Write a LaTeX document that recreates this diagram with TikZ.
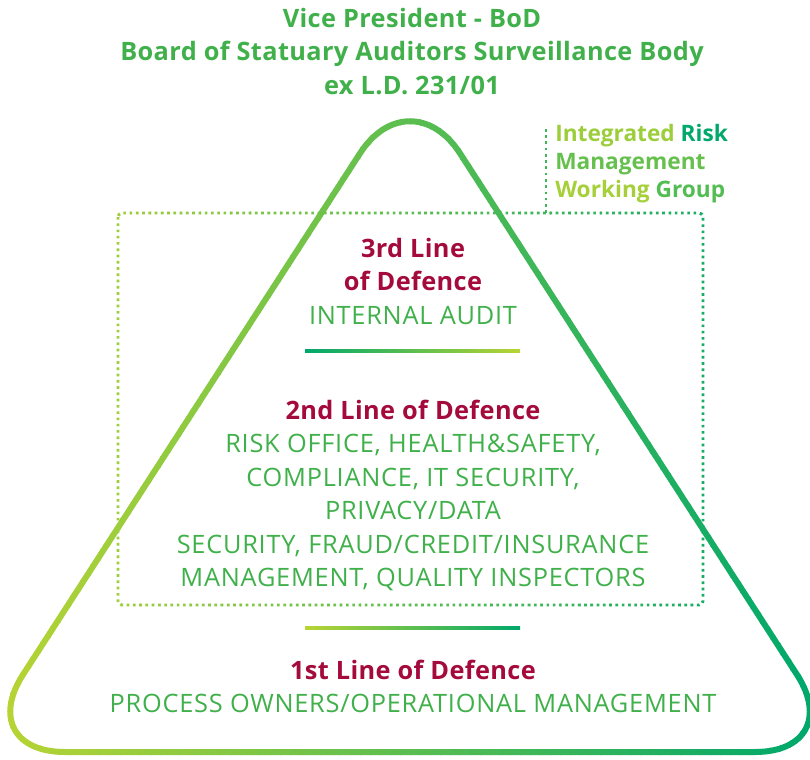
\documentclass[tikz,border=0pt]{standalone}
\usepackage{fontspec}
\setmainfont{Open Sans}
\newfontfamily\bodyfont{Open Sans}[LetterSpace=3]
\newfontfamily\headfont{Open Sans}[LetterSpace=1.5]
\usetikzlibrary{positioning}
\definecolor{limegreen}{RGB}{184,212,52}
\definecolor{seagreen}{RGB}{0,168,107}
\definecolor{textgreen}{RGB}{64,176,74}
\definecolor{defred}{RGB}{164,10,60}
\tikzstyle{frame} = [
    line width=4.5pt,
    rounded corners=69pt
]
\tikzstyle{dots} = [
    line width=2.2pt,
    dash pattern=on 2pt off 2.7pt,
    rounded corners=3pt
]
\tikzstyle{heading} = [
    inner sep=0pt,
    minimum height=24.75pt,
    text height=17.6pt,
    text depth=4pt,
    font=\headfont\bfseries\fontsize{19}{20}\selectfont,
    text=defred
]
\tikzstyle{body} = [
    heading,
    font=\bodyfont\fontsize{19}{20}\selectfont,
    text=textgreen
]
\tikzstyle{title} = [
    heading,
    text=textgreen
]
\tikzstyle{group} = [
    heading,
    minimum height=20.6pt,
    text height=16.2pt,
    font=\bfseries\fontsize{17}{20}\selectfont
]

\begin{document}
\begin{tikzpicture}[x=0.75pt, y=-0.75pt]

\useasboundingbox (0,0) rectangle (810,760);

% outline corners
\coordinate (apex)  at (410,76);
\coordinate (right) at (847,752);
\coordinate (left)  at (-27,752);
\coordinate (boxnw) at (118,213);
\coordinate (boxse) at (703,605);
\coordinate (link)  at (546,213);
\coordinate (linktop) at (546,127);

% colour runs from left to right, strip by strip
\foreach \i in {0,...,80} {
    \pgfmathsetmacro\mix{100-\i*1.25}
    \begin{scope}
        \clip (\i*10,0) rectangle (\i*10+11,760);
        \draw[frame, color=limegreen!\mix!seagreen] (apex) -- (right) -- (left) -- cycle;
        \draw[dots, color=limegreen!\mix!seagreen] (boxnw) rectangle (boxse);
        \draw[dots, color=limegreen!\mix!seagreen] (link) -- (linktop);
    \end{scope}
}

\node (vp)    [title] at (412,18) {Vice President - BoD};
\node (board) [title, below=0pt of vp] {Board of Statuary Auditors Surveillance Body};
\node (law)   [title, below=0pt of board] {ex L.D. 231/01};

\node (grp1) [group, anchor=west] at (555,133) {\textcolor{limegreen!85!seagreen}{Integrated} \textcolor{seagreen}{Risk}};
\node (grp2) [group, below=0pt of grp1.south west, anchor=north west] {\textcolor{limegreen!55!seagreen}{Management}};
\node (grp3) [group, below=0pt of grp2.south west, anchor=north west] {\textcolor{limegreen!90!seagreen}{Working} \textcolor{limegreen!45!seagreen}{Group}};

\node (third)  [heading] at (413,248) {3rd Line};
\node (thirdb) [heading, below=0pt of third] {of Defence};
\node (audit)  [body, below=0pt of thirdb] {INTERNAL AUDIT};

\coordinate (sep1l) at (305,349.5);
\coordinate (sep1r) at (520,352.5);
\shade[left color=seagreen, right color=limegreen] (sep1l) rectangle (sep1r);

\node (second)  [heading] at (413,410) {2nd Line of Defence};
\node (risk)    [body, below=0pt of second] {RISK OFFICE, HEALTH\&SAFETY,};
\node (compl)   [body, below=0pt of risk] {COMPLIANCE, IT SECURITY,};
\node (privacy) [body, below=0pt of compl] {PRIVACY/DATA};
\node (fraud)   [body, below=0pt of privacy] {SECURITY, FRAUD/CREDIT/INSURANCE};
\node (quality) [body, below=0pt of fraud] {MANAGEMENT, QUALITY INSPECTORS};

\coordinate (sep2l) at (305,626.5);
\coordinate (sep2r) at (520,629.5);
\shade[left color=limegreen, right color=seagreen] (sep2l) rectangle (sep2r);

\node (first)  [heading] at (413,670) {1st Line of Defence};
\node (owners) [body, below=0pt of first] {PROCESS OWNERS/OPERATIONAL MANAGEMENT};

\end{tikzpicture}
\end{document}
